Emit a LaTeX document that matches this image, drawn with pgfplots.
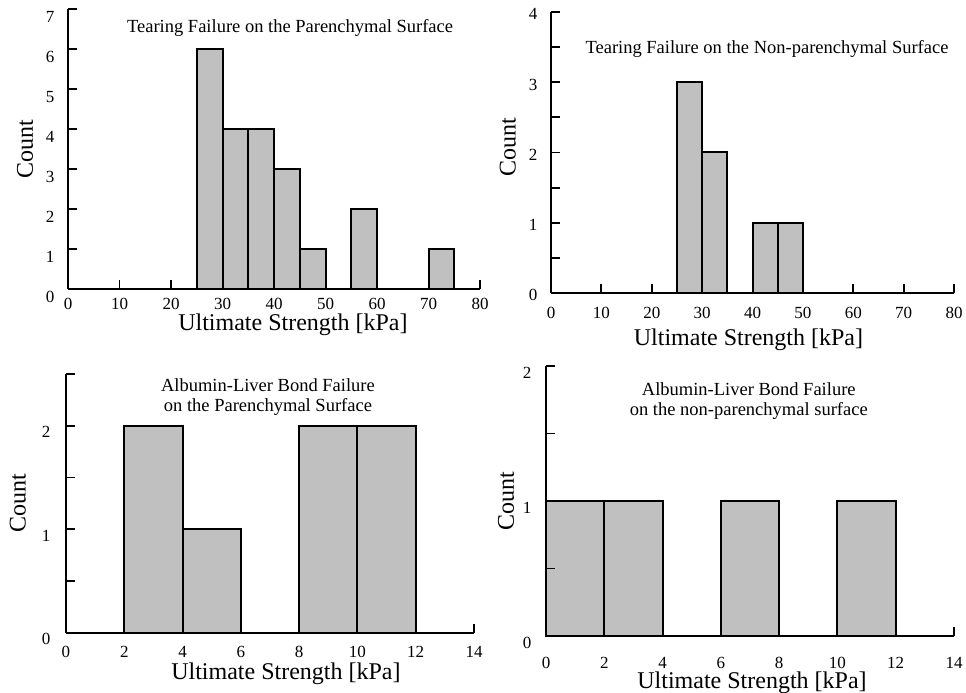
\documentclass[border=0pt]{standalone}
\usepackage{fontspec}
\setmainfont{Liberation Serif}
\usepackage{pgfplots}
\pgfplotsset{compat=1.18}
\definecolor{bargray}{RGB}{192,192,192}
\pgfplotsset{
  histo/.style={
    scale only axis, axis lines=left, axis line style={-, line width=2.4pt},
    enlargelimits=false, clip=false, axis on top=true,
    tick align=inside, major tick length=9pt, minor tick length=9pt,
    every tick/.style={black, line width=1.8pt},
    /pgf/number format/assume math mode=true,
    tick label style={font=\fontsize{17}{17}\selectfont},
    label style={font=\fontsize{24}{24}\selectfont},
    ymin=0, xmin=0,
    ylabel={Count}, xlabel={Ultimate Strength [kPa]},
    title style={font=\fontsize{18.5}{20.5}\selectfont, align=center, anchor=center, yshift=0pt},
  },
  barfill/.style={ybar interval, fill=bargray, draw=none},
  baredge/.style={ybar interval, fill=none, draw=black, line width=2pt},
}
\begin{document}
\begin{tikzpicture}
\useasboundingbox (0,0) rectangle (966pt,693pt);
% Panel 1
\begin{axis}[histo, at={(68pt,404pt)}, anchor=south west,
  width=412pt, height=280pt, xmax=80, ymax=7,
  xtick={0,10,...,80}, ytick={0,1,...,7},
  xticklabel style={anchor=base, yshift=-21pt},
  yticklabel style={anchor=base east, xshift=-10pt, yshift=-13.8pt},
  xlabel style={at={(axis description cs:0.546,-0.129)}, anchor=center},
  ylabel style={at={(axis description cs:-0.104,0.5)}, anchor=center},
  title={Tearing Failure on the Parenchymal Surface},
  title style={at={(axis description cs:0.539,0.911)}},
]
\addplot[barfill] coordinates {(25,6) (30,4) (35,4) (40,3) (45,1) (50,0) (55,2) (60,0) (65,0) (70,1) (75,0)};
\addplot[baredge] coordinates {(25,6) (30,4) (35,4) (40,3) (45,1) (50,0) (55,2) (60,0) (65,0) (70,1) (75,0)};
\end{axis}
% Panel 2
\begin{axis}[histo, at={(551pt,400pt)}, anchor=south west,
  width=403pt, height=281pt, xmax=80, ymax=4,
  xtick={0,10,...,80}, ytick={0,1,...,4}, minor ytick={0.5,1.5,2.5,3.5},
  xticklabel style={anchor=base, yshift=-26pt},
  yticklabel style={anchor=base east, xshift=-10pt, yshift=-7.8pt},
  xlabel style={at={(axis description cs:0.49,-0.168)}, anchor=center},
  ylabel style={at={(axis description cs:-0.107,0.518)}, anchor=center},
  title={Tearing Failure on the Non-parenchymal Surface},
  title style={at={(axis description cs:0.536,0.847)}},
]
\addplot[barfill] coordinates {(25,3) (30,2) (35,0) (40,1) (45,1) (50,0)};
\addplot[baredge] coordinates {(25,3) (30,2) (35,0) (40,1) (45,1) (50,0)};
\end{axis}
% Panel 3
\begin{axis}[histo, at={(66pt,60pt)}, anchor=south west,
  width=408pt, height=259pt, xmax=14, ymax=2.5,
  xtick={0,2,...,14}, ytick={0,1,2}, minor ytick={0.5,1.5,2.5},
  xticklabel style={anchor=base, yshift=-24pt},
  yticklabel style={anchor=base east, xshift=-12pt, yshift=-11.8pt},
  xlabel style={at={(axis description cs:0.539,-0.159)}, anchor=center},
  ylabel style={at={(axis description cs:-0.118,0.5)}, anchor=center},
  title={Albumin-Liver Bond Failure\\on the Parenchymal Surface},
  title style={at={(axis description cs:0.495,0.888)}},
]
\addplot[barfill] coordinates {(2,2) (4,1) (6,0) (8,2) (10,2) (12,0)};
\addplot[baredge] coordinates {(2,2) (4,1) (6,0) (8,2) (10,2) (12,0)};
\end{axis}
% Panel 4
\begin{axis}[histo, at={(546pt,57pt)}, anchor=south west,
  width=408pt, height=270pt, xmax=14, ymax=2,
  xtick={0,2,...,14}, ytick={0,1,2}, minor ytick={0.5,1.5},
  xticklabel style={anchor=base, yshift=-32pt},
  yticklabel style={anchor=base east, xshift=-11pt, yshift=-12.8pt},
  xlabel style={at={(axis description cs:0.505,-0.174)}, anchor=center},
  ylabel style={at={(axis description cs:-0.098,0.5)}, anchor=center},
  title={Albumin-Liver Bond Failure\\on the non-parenchymal surface},
  title style={at={(axis description cs:0.497,0.848)}},
]
\addplot[barfill] coordinates {(0,1) (2,1) (4,0) (6,1) (8,0) (10,1) (12,0)};
\addplot[baredge] coordinates {(0,1) (2,1) (4,0) (6,1) (8,0) (10,1) (12,0)};
\end{axis}
\end{tikzpicture}
\end{document}
